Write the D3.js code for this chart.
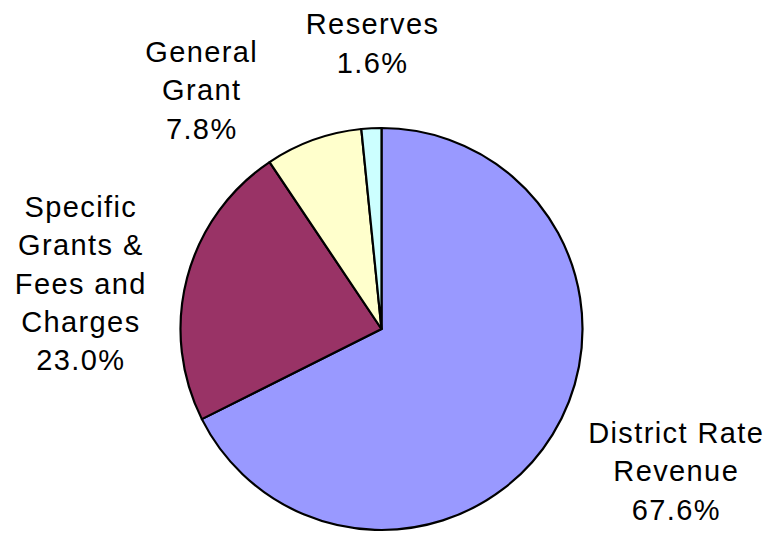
<!DOCTYPE html>
<html>
<head>
<meta charset="utf-8">
<script src="https://cdn.jsdelivr.net/npm/d3@7"></script>
<style>
  html, body { margin: 0; padding: 0; background: #ffffff; }
  svg { display: block; }
  text { font-family: "Liberation Sans", Arial, sans-serif; fill: #000; }
</style>
</head>
<body>
<svg id="chart" width="771" height="539"></svg>
<script>
// Revenue sources (share of total, %)
const categories = ["District Rate Revenue", "Specific Grants & Fees and Charges", "General Grant", "Reserves"];
const shares = [67.6, 23.0, 7.8, 1.6];
const labelLines = [
  ["District Rate", "Revenue"],
  ["Specific", "Grants &", "Fees and", "Charges"],
  ["General", "Grant"],
  ["Reserves"]
];
const colors = ["#9999FF", "#993366", "#FFFFCC", "#CCFFFF"];

// Layout
const W = 771, H = 539;
const cx = 381.5, cy = 329, radius = 201;
const fontSize = 29, lineHeight = 38.4, letterSpacing = 1.4;
// label block placement relative to the slice's outer mid point: [dx of block centre, dy of first baseline]
const labelNudge = [[123, 8.5], [-107, -61], [-112.4, -78], [0.5, -94]];

const svg = d3.select("#chart");
const g = svg.append("g").attr("transform", `translate(${cx},${cy})`);

const pie = d3.pie().sort(null).value(d => d.value);
const arcs = pie(categories.map((c, i) => ({ name: c, value: shares[i], idx: i })));

const arc = d3.arc().innerRadius(0).outerRadius(radius);

g.selectAll("path.slice")
  .data(arcs)
  .join("path")
  .attr("class", "slice")
  .attr("d", arc)
  .attr("fill", d => colors[d.data.idx])
  .attr("stroke", "#000")
  .attr("stroke-width", 2.2)
  .attr("stroke-linejoin", "round");

const fmt = d3.format(".1f");

g.selectAll("text.label")
  .data(arcs)
  .join("text")
  .attr("class", "label")
  .attr("text-anchor", "middle")
  .attr("font-size", fontSize)
  .attr("letter-spacing", letterSpacing)
  .each(function (d) {
    const i = d.data.idx;
    const mid = (d.startAngle + d.endAngle) / 2;
    const px = Math.sin(mid) * radius;
    const py = -Math.cos(mid) * radius;
    // trailing letter spacing shifts centred text left; compensate by half a gap
    const x = px + labelNudge[i][0] + letterSpacing / 2;
    const y = py + labelNudge[i][1];
    const lines = labelLines[i].concat([fmt(d.data.value) + "%"]);
    const t = d3.select(this);
    lines.forEach((ln, k) => {
      t.append("tspan")
        .attr("x", x)
        .attr("y", y + k * lineHeight)
        .text(ln);
    });
  });
</script>
</body>
</html>
